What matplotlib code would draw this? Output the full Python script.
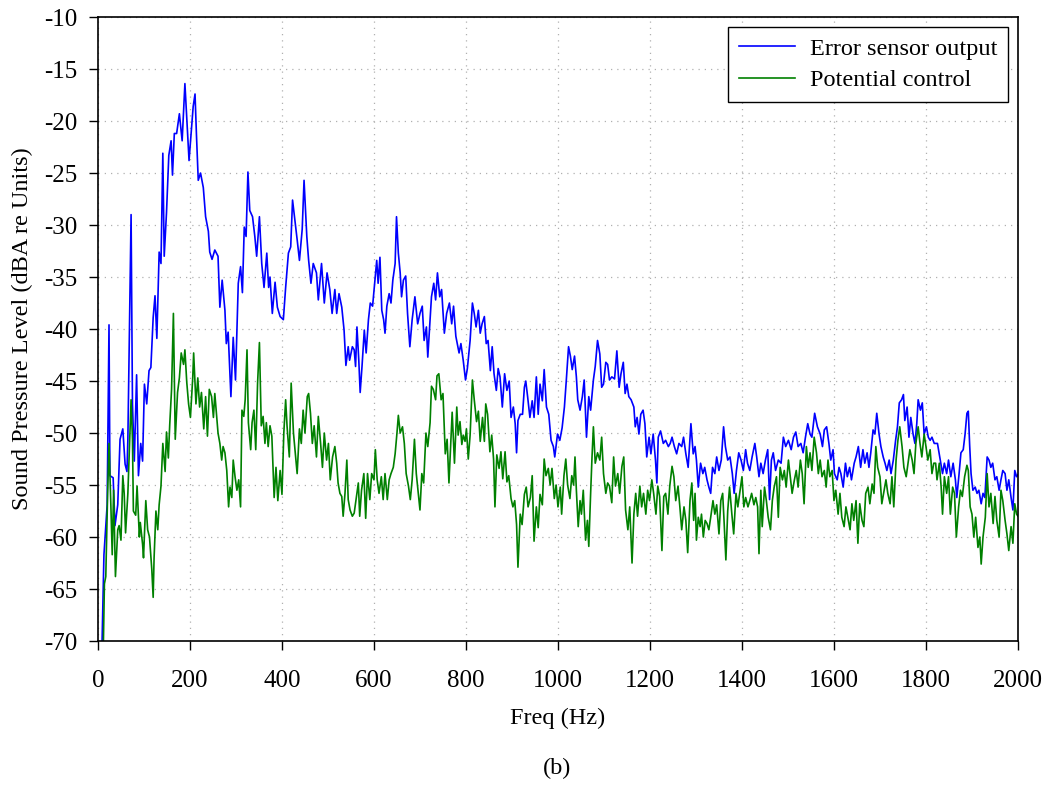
import numpy as np
import matplotlib
matplotlib.use('Agg')
from matplotlib import pyplot as plt

# (frequency Hz, level dBA)
error_sensor = [
    (8, -72), (13, -61.7), (20, -56.9), (24, -39.6), (26, -54.1), (33, -54.3), (37, -58.9), (43, -56.9),
    (48, -50.6), (54, -49.6), (59, -53), (63, -53.7), (65, -50.6), (72, -29), (75, -47.2), (79, -52.7),
    (84, -44.4), (88, -54.1), (93, -51), (97, -52.7), (101, -45.3), (106, -47.2), (111, -44), (115, -43.7),
    (120, -38.9), (124, -36.8), (128, -40.9), (133, -32.6), (137, -33.7), (141, -23.1), (144, -33),
    (149, -28.8), (154, -23.3), (159, -21.9), (162, -25.2), (166, -21.2), (171, -21.2), (177, -19.3),
    (183, -21.9), (189, -16.4), (198, -23.8), (203, -20.9), (207, -18.6), (211, -17.4), (214, -21.2),
    (218, -25.7), (223, -25), (229, -26.4), (234, -29.2), (240, -30.6), (243, -32.6), (248, -33.3),
    (254, -32.4), (261, -33), (265, -37.9), (270, -35.3), (276, -38.2), (279, -41.4), (283, -40.3),
    (289, -46.5), (294, -40.8), (299, -44.9), (305, -35.6), (310, -34), (314, -36.5), (318, -30.2),
    (322, -31.1), (326, -24.9), (330, -28.6), (336, -29.2), (341, -31.1), (345, -33), (351, -29.2),
    (356, -33.7), (361, -36), (367, -32.7), (371, -36), (374, -35), (379, -38.5), (385, -35.5),
    (390, -37.9), (396, -38.8), (403, -39.1), (408, -36), (414, -32.7), (419, -32.1), (423, -27.6),
    (428, -29.5), (433, -31.4), (438, -33.4), (444, -30.4), (448, -25.7), (454, -31.1), (458, -33.4),
    (463, -35.6), (468, -33.7), (475, -34.6), (479, -37.2), (486, -33.7), (492, -37.5), (498, -34.6),
    (504, -36.2), (509, -38.5), (515, -36.2), (519, -38.5), (524, -36.6), (530, -37.9), (535, -40.1),
    (539, -43.5), (544, -41.7), (547, -43), (553, -41.7), (557, -42), (560, -43.6), (563, -39.8),
    (567, -43), (570, -46.1), (574, -43.6), (579, -40.1), (583, -42.3), (588, -39.1), (592, -37.5),
    (597, -37.8), (602, -35.3), (606, -33.4), (609, -35.6), (613, -33.1), (617, -38.2), (621, -39.1),
    (624, -40.4), (628, -37.8), (633, -36.6), (637, -37.5), (641, -35.3), (646, -33.7), (649, -29.2),
    (653, -32.7), (657, -34.6), (660, -36.9), (664, -35.3), (669, -34.9), (673, -38.5), (678, -41.7),
    (683, -39.1), (689, -36.9), (695, -39.5), (700, -38.5), (705, -37.8), (709, -41.1), (714, -39.8),
    (717, -42.7), (721, -39.8), (725, -36.9), (730, -35.6), (734, -37.2), (738, -34.6), (743, -36.9),
    (747, -36.2), (753, -40.4), (758, -38.5), (764, -37.5), (769, -39.5), (773, -37.8), (778, -40.7),
    (785, -42.3), (789, -41.4), (794, -43), (799, -44.9), (803, -43.8), (809, -41.1), (814, -37.5),
    (818, -38.5), (822, -39.8), (827, -38.2), (831, -40.4), (835, -39.5), (840, -38.8), (844, -41.4),
    (848, -41.1), (853, -44), (857, -41.7), (861, -44.3), (866, -45.9), (870, -43.8), (874, -44.6),
    (879, -47.5), (884, -44.3), (889, -45.9), (894, -45), (898, -48.5), (903, -47.5), (907, -49.1),
    (910, -51.9), (913, -48.8), (918, -48.2), (923, -48.2), (927, -45.6), (930, -45), (934, -46.5),
    (939, -48.5), (944, -46.9), (948, -48.5), (953, -44.6), (957, -48.2), (961, -45.3), (966, -46.9),
    (970, -43.9), (975, -47.5), (980, -48.2), (985, -50.7), (990, -51.3), (993, -52.3), (999, -50.1),
    (1004, -50.7), (1009, -49.5), (1014, -47.5), (1018, -45), (1023, -41.7), (1027, -42.6), (1031, -43.9),
    (1036, -42.6), (1040, -44.6), (1043, -46.8), (1048, -47.8), (1053, -46.5), (1057, -44.9), (1062, -50.4),
    (1067, -46.5), (1071, -47.8), (1077, -44.9), (1081, -43.6), (1086, -41.1), (1091, -42.4), (1095, -45.6),
    (1099, -45.3), (1104, -43.2), (1108, -43.4), (1112, -44.9), (1117, -44.6), (1123, -44.8), (1128, -42.1),
    (1133, -45.6), (1137, -44.3), (1142, -43.2), (1146, -46.2), (1150, -45.3), (1154, -46.5), (1159, -46.8),
    (1165, -47.5), (1168, -49.4), (1172, -48.5), (1176, -50.1), (1180, -48.2), (1185, -47.8), (1189, -49.1),
    (1193, -52.3), (1198, -50.4), (1202, -52), (1207, -50.1), (1212, -52.6), (1215, -54.8), (1218, -50.4),
    (1223, -49.8), (1229, -51), (1234, -50.7), (1240, -51.3), (1244, -51), (1248, -50.4), (1253, -51.3),
    (1258, -52), (1263, -51), (1269, -51.3), (1273, -50.4), (1278, -52), (1283, -53.3), (1289, -49.1),
    (1294, -52), (1298, -51.3), (1301, -52.6), (1305, -55.2), (1310, -52.9), (1315, -53.9), (1319, -53.3),
    (1324, -54.5), (1328, -55.2), (1332, -55.8), (1336, -53.3), (1341, -53.9), (1345, -52.3), (1350, -53.6),
    (1355, -52.6), (1360, -49.4), (1364, -51.3), (1369, -52.6), (1374, -52.3), (1379, -53.9), (1383, -55.8),
    (1388, -53.6), (1393, -51.9), (1398, -52.6), (1403, -53.6), (1408, -51.6), (1412, -52.9), (1417, -53.6),
    (1422, -52.3), (1428, -51), (1432, -52.3), (1437, -54.2), (1441, -52.9), (1446, -53.9), (1451, -52.6),
    (1456, -51.6), (1460, -56.4), (1464, -52.6), (1468, -51.9), (1473, -53.6), (1479, -52.6), (1485, -52.9),
    (1490, -50.4), (1495, -51.3), (1501, -50.7), (1507, -51.6), (1512, -50.4), (1517, -49.9), (1522, -51.3),
    (1528, -51), (1533, -51.9), (1538, -50.4), (1543, -49.1), (1548, -50.1), (1552, -50.4), (1558, -48.1),
    (1564, -49.4), (1570, -50.1), (1575, -51.3), (1579, -49.7), (1584, -49.4), (1589, -51), (1593, -52.6),
    (1598, -51.6), (1601, -53.9), (1607, -54.5), (1611, -53.3), (1615, -53.9), (1620, -55.2), (1625, -52.9),
    (1629, -54.2), (1634, -53.3), (1638, -54.5), (1644, -52.9), (1648, -52.3), (1653, -51.3), (1658, -53.3),
    (1663, -51.6), (1667, -52.9), (1672, -51.9), (1676, -53.3), (1680, -51.9), (1685, -49.7), (1689, -50.1),
    (1693, -48.1), (1698, -50.1), (1702, -51.3), (1707, -52.3), (1711, -52.9), (1715, -53.6), (1720, -52.6),
    (1724, -53.9), (1729, -52.6), (1734, -50.7), (1738, -49.4), (1742, -47.1), (1747, -46.8), (1751, -46.3),
    (1754, -48.8), (1759, -47.5), (1763, -50.4), (1767, -48.5), (1772, -50.1), (1776, -51), (1780, -49.1),
    (1783, -46.8), (1788, -47.8), (1792, -47.1), (1796, -50.1), (1801, -49.4), (1805, -50.4), (1809, -50.7),
    (1813, -50.4), (1818, -51), (1825, -51), (1830, -52.3), (1836, -53.9), (1840, -52.9), (1845, -53.9),
    (1849, -52.6), (1854, -54.2), (1859, -52.9), (1864, -54.5), (1867, -56.2), (1872, -53.9), (1876, -51.9),
    (1881, -51.6), (1885, -50.1), (1889, -48.1), (1892, -47.9), (1895, -51.2), (1898, -53.9), (1902, -55.5),
    (1907, -55.2), (1911, -55.8), (1915, -55.5), (1920, -56.8), (1924, -55.8), (1928, -56.2), (1933, -52.3),
    (1937, -52.6), (1941, -53.3), (1945, -52.9), (1950, -54.5), (1954, -54.2), (1959, -55.5), (1963, -54.5),
    (1967, -53.6), (1972, -53.9), (1976, -55.5), (1980, -54.5), (1985, -56.2), (1989, -57.4), (1993, -53.6),
    (1997, -54.2), (2000, -54),
]

potential_control = [
    (10, -75), (14, -64.5), (17, -63.8), (21, -55.8), (24, -51), (28, -56.9), (31, -61.7), (34, -55.5),
    (38, -63.8), (43, -59.3), (46, -58.9), (50, -60.3), (54, -54.1), (57, -55.8), (60, -59.6), (65, -55.8),
    (69, -50.6), (72, -46.8), (75, -50.6), (77, -57.5), (82, -57.9), (85, -55.1), (90, -60), (92, -58.6),
    (97, -60.7), (99, -62), (104, -56.5), (108, -59.3), (112, -60), (117, -63.1), (120, -65.8), (122, -62),
    (126, -57.5), (130, -59.3), (133, -56.9), (137, -55.1), (141, -51), (146, -53.7), (149, -49.9),
    (153, -52.4), (156, -49.2), (160, -45.8), (164, -38.5), (168, -50.6), (173, -46.1), (177, -44.7),
    (181, -42.3), (186, -43.4), (189, -42), (193, -45.1), (197, -47.2), (201, -48.5), (206, -44.7),
    (208, -42.3), (213, -47.2), (217, -44.7), (221, -47.5), (225, -46.1), (230, -49.6), (234, -46.5),
    (238, -50.3), (242, -45.8), (247, -46.5), (251, -48.5), (254, -46.2), (258, -48.4), (261, -50),
    (265, -51), (269, -52.6), (272, -51.3), (276, -51.9), (280, -53.6), (284, -57.1), (287, -55.2),
    (291, -56.2), (294, -52.6), (298, -54.2), (302, -55.5), (306, -54.5), (310, -57.1), (313, -47.8),
    (317, -48.4), (320, -46.8), (324, -42), (327, -49), (332, -51.6), (335, -49), (339, -47.8), (343, -51.6),
    (347, -45.2), (351, -41.3), (355, -49.3), (359, -48.4), (363, -51), (366, -49), (370, -51.3),
    (374, -49.3), (378, -50.3), (383, -56.2), (387, -53.3), (391, -56.5), (396, -53.6), (400, -55.9),
    (404, -50), (408, -46.8), (411, -49.3), (416, -52.3), (420, -45.2), (425, -50), (429, -51.9),
    (433, -53.9), (438, -49.6), (442, -51), (446, -47.8), (450, -50), (455, -46.5), (458, -46.2),
    (462, -48.1), (466, -51), (470, -49.3), (475, -52.3), (479, -48.4), (484, -51), (488, -53.3), (492, -50),
    (497, -52.6), (501, -51), (505, -54.5), (510, -52.3), (515, -51.3), (519, -52.9), (522, -54.8),
    (526, -55.8), (530, -56.1), (533, -58), (537, -55.8), (541, -52.6), (544, -56.4), (548, -57.4),
    (553, -58), (557, -57.7), (561, -56.4), (566, -54.8), (569, -58), (573, -55.5), (578, -53.9),
    (582, -58.2), (586, -53.9), (591, -56.4), (595, -53.9), (600, -54.5), (603, -51.6), (607, -54.5),
    (611, -55.8), (616, -54.2), (620, -56.4), (624, -53.9), (629, -56.4), (633, -54.5), (637, -53.9),
    (642, -53.3), (646, -52), (650, -50), (653, -48.3), (657, -50), (662, -49.4), (666, -51), (670, -53.9),
    (675, -55.1), (679, -56.4), (683, -54.5), (688, -50.6), (692, -53.9), (697, -56.1), (700, -57.4),
    (704, -53.9), (708, -54.8), (713, -50), (717, -51.3), (722, -49), (725, -45.5), (729, -45.8),
    (734, -46.8), (737, -44.5), (741, -44.3), (746, -46.8), (750, -46.2), (755, -52), (759, -50.6),
    (763, -54.8), (768, -50), (770, -48), (775, -52.9), (780, -47.5), (783, -50.2), (787, -48.9),
    (791, -51.1), (794, -50.2), (798, -50.8), (801, -49.6), (805, -52.5), (809, -50.2), (814, -44.9),
    (818, -46.8), (823, -48.9), (827, -47.9), (831, -50.8), (836, -48.5), (840, -50.8), (843, -47.2),
    (847, -48.2), (852, -51.8), (856, -50.2), (860, -52.5), (863, -57.1), (867, -52.1), (872, -53.4),
    (876, -51.8), (880, -54.4), (885, -51.8), (889, -54.7), (893, -54.1), (898, -56.3), (902, -57.1),
    (906, -56.5), (910, -58.8), (913, -62.9), (918, -57.8), (922, -58.8), (927, -55.9), (931, -55.2),
    (935, -57.1), (940, -56.2), (944, -54.1), (948, -60.4), (953, -57.1), (957, -59.1), (961, -55.9),
    (966, -56.9), (970, -52.5), (974, -54.1), (979, -53.4), (983, -55), (987, -53.4), (992, -56.3),
    (996, -55), (1000, -57.1), (1005, -55.2), (1008, -57.8), (1013, -54.1), (1017, -52.5), (1021, -55),
    (1026, -56.3), (1030, -54.1), (1034, -55), (1037, -52.3), (1040, -55.5), (1044, -59), (1048, -56.5),
    (1051, -57.8), (1055, -55.5), (1060, -60.3), (1064, -58.4), (1067, -60.9), (1071, -55.8), (1074, -52.3),
    (1077, -49.4), (1081, -52.9), (1086, -51.9), (1091, -52.6), (1095, -50.4), (1099, -53.9), (1104, -55.8),
    (1108, -54.8), (1112, -55.1), (1117, -56.7), (1121, -52.3), (1125, -55.1), (1130, -53.9), (1134, -55.8),
    (1139, -53.2), (1143, -52.3), (1147, -57.4), (1152, -59.3), (1156, -57.1), (1161, -62.5), (1165, -57.8),
    (1169, -55.8), (1173, -58), (1178, -55.1), (1182, -57.1), (1186, -55.8), (1191, -57.8), (1195, -55.5),
    (1199, -56.5), (1204, -54.5), (1208, -55.8), (1213, -57.8), (1217, -55.1), (1221, -56.1), (1226, -61.3),
    (1230, -56.1), (1234, -55.8), (1239, -57.8), (1243, -55.1), (1248, -53.2), (1252, -54.2), (1256, -56.5),
    (1261, -55.1), (1265, -57.1), (1269, -59.3), (1274, -57.1), (1278, -58.4), (1282, -61.5), (1287, -56.5),
    (1291, -54.8), (1295, -58.4), (1298, -55.8), (1301, -60.3), (1305, -58.1), (1309, -59), (1312, -57.8),
    (1316, -60), (1320, -58.4), (1324, -58.7), (1328, -59.3), (1332, -58.1), (1337, -56.5), (1341, -57.8),
    (1345, -56.9), (1350, -59.7), (1354, -56.5), (1358, -55.8), (1361, -58.4), (1365, -62.2), (1369, -57.5),
    (1373, -55.2), (1378, -57.8), (1382, -59.7), (1387, -55.8), (1391, -57.1), (1395, -55.8), (1400, -54.2),
    (1404, -57.1), (1408, -56.2), (1413, -57.1), (1417, -56.5), (1421, -55.8), (1426, -56.9), (1430, -56.2),
    (1434, -57.1), (1437, -61.6), (1441, -55.5), (1444, -59), (1449, -55.2), (1453, -56.5), (1457, -58.1),
    (1462, -59.3), (1466, -56.5), (1470, -55.2), (1475, -54.2), (1479, -58.1), (1483, -53.3), (1488, -54.5),
    (1492, -53.6), (1496, -55.2), (1501, -52.6), (1505, -54.2), (1509, -55.8), (1514, -54.5), (1518, -53.6),
    (1522, -55.2), (1527, -52.6), (1531, -53.9), (1535, -56.8), (1540, -51.3), (1544, -53.3), (1548, -51.9),
    (1552, -53.6), (1557, -50.4), (1562, -51.9), (1566, -53.9), (1570, -52.6), (1574, -54.2), (1579, -53.6),
    (1583, -55.2), (1587, -52.6), (1591, -54.2), (1596, -53.6), (1600, -56.5), (1604, -55.5), (1609, -57.8),
    (1613, -55.8), (1617, -58.1), (1622, -59), (1626, -57.1), (1630, -58.1), (1635, -59.3), (1639, -56.8),
    (1643, -58.4), (1648, -56.5), (1652, -60.6), (1656, -56.8), (1661, -58.4), (1665, -59), (1669, -55.8),
    (1674, -55.2), (1678, -56.8), (1683, -54.9), (1687, -55.8), (1691, -51.3), (1695, -53.3), (1700, -54.2),
    (1704, -56.8), (1709, -55.5), (1713, -54.5), (1717, -55.8), (1722, -56.8), (1726, -54.2), (1730, -57.1),
    (1735, -52.6), (1739, -50.7), (1743, -49.4), (1748, -51.3), (1752, -53.3), (1757, -54.2), (1761, -52.9),
    (1765, -51.6), (1770, -52.6), (1774, -53.9), (1778, -51), (1783, -49.4), (1787, -51), (1791, -52.3),
    (1796, -50.1), (1800, -51.3), (1804, -52.6), (1809, -51.6), (1813, -53.9), (1817, -52.9), (1821, -52.9),
    (1824, -54.5), (1829, -52.9), (1833, -55.2), (1836, -57.8), (1840, -54.2), (1845, -55.8), (1849, -54.2),
    (1853, -57.8), (1858, -55.2), (1862, -55.8), (1866, -60), (1871, -57.1), (1875, -55.5), (1879, -56.1),
    (1884, -54.2), (1889, -53.1), (1892, -53.6), (1896, -57.1), (1900, -57.8), (1904, -60), (1908, -58.1),
    (1913, -61), (1917, -60), (1920, -62.6), (1924, -60), (1929, -58.1), (1933, -53.9), (1937, -57.1),
    (1941, -55.8), (1946, -58.7), (1950, -56.1), (1954, -58.4), (1959, -60), (1963, -55.5), (1967, -56.5),
    (1972, -58.4), (1976, -59.7), (1980, -61.3), (1985, -59), (1989, -60.6), (1993, -56.8), (1997, -57.8),
    (2000, -58),
]

x_ticks = list(range(0, 2001, 200))
y_ticks = list(range(-70, -9, 5))

plt.rcParams['font.family'] = ['Liberation Serif', 'DejaVu Serif']
plt.rcParams['axes.unicode_minus'] = False

err = np.array(error_sensor)
pot = np.array(potential_control)

fig = plt.figure(figsize=(10.5, 7.85), dpi=100)
ax = fig.add_axes([0.0933, 0.1834, 0.8762, 0.7949])

ax.plot(err[:, 0], err[:, 1], color='#0000ff', lw=1.2, label='Error sensor output')
ax.plot(pot[:, 0], pot[:, 1], color='#008000', lw=1.2, label='Potential control')

ax.set_xlim(0, 2000)
ax.set_ylim(-70, -10)
ax.set_xticks(x_ticks)
ax.set_yticks(y_ticks)
ax.tick_params(direction='out', length=6.5, width=1, labelsize=18, colors='black')
ax.tick_params(axis='x', pad=14)
ax.tick_params(axis='y', pad=8)
ax.grid(True, linestyle=(0, (1, 4)), color='#b0b0b0', linewidth=0.9)
for s in ax.spines.values():
    s.set_linewidth(1.2)

ax.set_xlabel('Freq (Hz)', fontsize=17.5, labelpad=12)
ax.set_ylabel('Sound Pressure Level (dBA re Units)', fontsize=17.5, labelpad=8)

leg = ax.legend(loc='upper right', fontsize=17.5, fancybox=False, framealpha=1,
                edgecolor='black', borderaxespad=0.4, handlelength=2.3,
                borderpad=0.45, labelspacing=0.4, handletextpad=0.6)
leg.get_frame().set_linewidth(1.0)

fig.text(0.531, 0.021, '(b)', ha='center', va='center', fontsize=17.5)

fig.savefig('out.png', dpi=100)
